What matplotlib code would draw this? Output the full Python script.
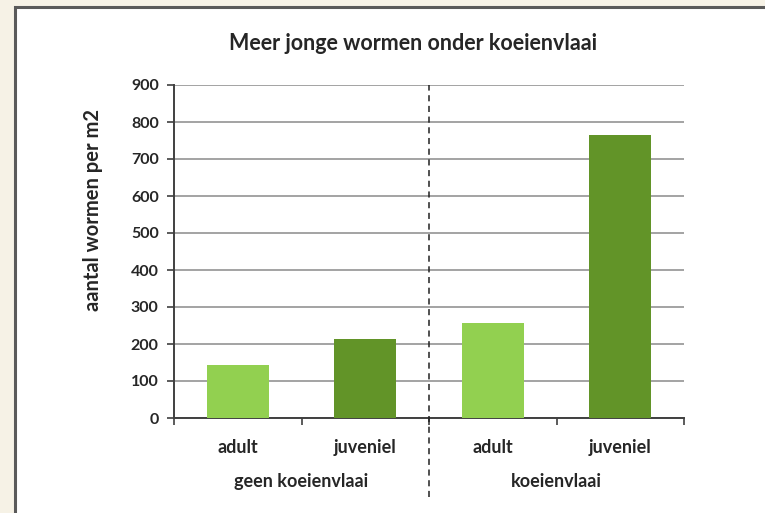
import matplotlib

matplotlib.use('Agg')
import matplotlib.pyplot as plt
import matplotlib.patches as patches
import matplotlib.transforms as transforms

# data
categories = ['adult', 'juveniel', 'adult', 'juveniel']
groups = ['geen koeienvlaai', 'koeienvlaai']
values = [143, 214, 258, 764]
colors = ['#92d050', '#629428', '#92d050', '#629428']
y_ticks = [0, 100, 200, 300, 400, 500, 600, 700, 800, 900]

plt.rcParams['font.family'] = ['Lato', 'DejaVu Sans']
text_color = '#262626'
fs = 11.5
fs_x = 13

fig = plt.figure(figsize=(7.65, 5.13), dpi=100)
fig.patch.set_facecolor('#f6f2e6')

# white panel with grey border (open to the right/bottom)
panel = patches.Rectangle((15 / 765, -0.1), 1.2, 1 - 7.5 / 513 + 0.1,
                          transform=fig.transFigure, facecolor='white',
                          edgecolor='#5a5a5a', linewidth=2.2, zorder=-10)
fig.patches.append(panel)

ax = fig.add_axes([174 / 765, 1 - 418 / 513, 510 / 765, 333 / 513])
ax.set_facecolor('none')

x = list(range(len(values)))
ax.bar(x, values, width=0.49, color=colors, zorder=3)

ax.set_xlim(-0.5, len(values) - 0.5)
ax.set_ylim(0, 900)
ax.set_yticks(y_ticks)
ax.set_yticklabels([str(v) for v in y_ticks], fontsize=fs, fontweight='bold', color=text_color)
ax.yaxis.grid(True, color='#a3a3a3', linewidth=1.4, zorder=1)
ax.set_axisbelow(True)

ax.set_xticks(x)
ax.set_xticklabels(categories, fontsize=fs_x, fontweight='bold', color=text_color)
ax.tick_params(axis='x', which='major', length=0, pad=15)
ax.set_xticks([i - 0.5 for i in range(len(values) + 1)], minor=True)
ax.tick_params(axis='x', which='minor', length=5, width=1.2, color='#404040', direction='out')
ax.tick_params(axis='y', length=5, width=1.2, color='#404040', pad=6)

for side in ['top', 'right']:
    ax.spines[side].set_visible(False)
for side in ['left', 'bottom']:
    ax.spines[side].set_color('#404040')
    ax.spines[side].set_linewidth(1.4)

# group labels under the categories
trans = transforms.blended_transform_factory(ax.transData, ax.transAxes)
ax.text(0.5, -0.192, groups[0], transform=trans, ha='center', va='center',
        fontsize=fs_x, fontweight='bold', color=text_color)
ax.text(2.5, -0.192, groups[1], transform=trans, ha='center', va='center',
        fontsize=fs_x, fontweight='bold', color=text_color)

# dashed separator
ax.axvline(1.5, ymin=-0.238, ymax=1.0, color='#202020', linewidth=1.1,
           linestyle=(0, (4, 3)), clip_on=False, zorder=4)

ax.set_ylabel('aantal wormen per m2', fontsize=14.5, fontweight='bold', color=text_color)
ax.yaxis.set_label_coords(-0.139, 0.625)

fig.text(413 / 765, 1 - 44 / 513, 'Meer jonge wormen onder koeienvlaai',
         ha='center', va='center', fontsize=15.5, fontweight='bold', color=text_color)

plt.savefig('out.png', dpi=100, facecolor=fig.get_facecolor())
